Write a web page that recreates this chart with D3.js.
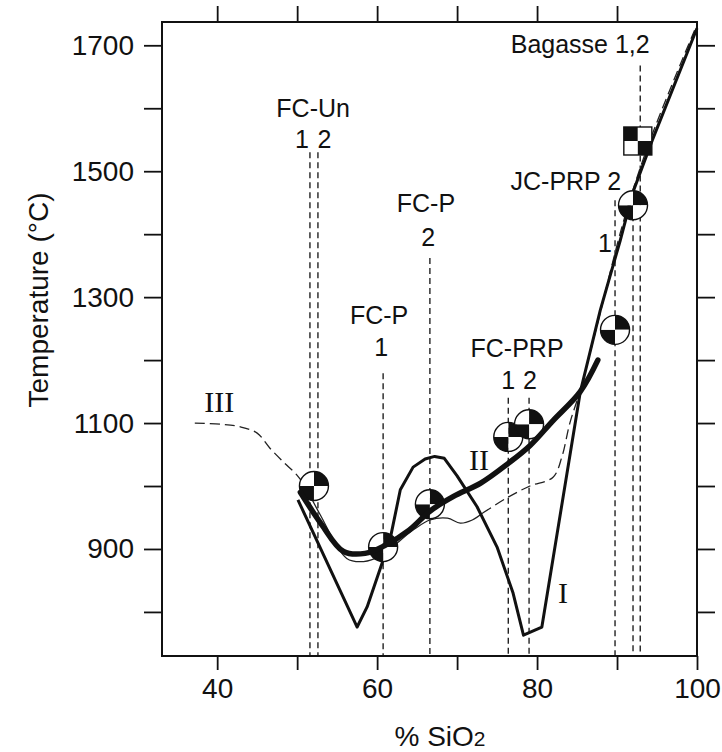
<!DOCTYPE html>
<html>
<head>
<meta charset="utf-8">
<script src="https://cdnjs.cloudflare.com/ajax/libs/d3/7.8.5/d3.min.js"></script>
<style>
  body { margin: 0; background: #fff; }
  svg text { font-family: "Liberation Sans", Arial, sans-serif; fill: #111; }
  .roman { font-family: "Liberation Serif", "DejaVu Serif", serif; }
</style>
</head>
<body>
<div id="chart"></div>
<script>
// ---- values ----
var xTicks = [40, 50, 60, 70, 80, 90, 100];
var xTopTicks = [40, 50, 60, 70, 80, 90];
var xLabels = [40, 60, 80, 100];
var yTicks = [800, 900, 1000, 1100, 1200, 1300, 1400, 1500, 1600, 1700];
var yLabels = [900, 1100, 1300, 1500, 1700];

// [ %SiO2, temperature ]
var curveI = [[50.1, 978], [57.5, 776], [58.75, 808], [61.6, 914], [62.9, 994], [64.5, 1030],
  [66.0, 1043], [67.2, 1047], [68.4, 1044], [70.0, 1016], [72.5, 967], [75.0, 903],
  [77.0, 830], [78.3, 763], [80.6, 776], [85.4, 1149], [87.9, 1279], [90.4, 1390],
  [92.0, 1467], [94.4, 1549], [100, 1727]];

var curveII = [[50.4, 990], [53.0, 940], [55.8, 896], [58.5, 893], [60.9, 905], [64.0, 930],
  [66.6, 960], [69.5, 983], [73.0, 1005], [76.4, 1036], [79.1, 1064], [82.0, 1104],
  [85.4, 1150], [87.6, 1200]];

var curveIIIdash1 = [[37.2, 1100], [40.5, 1098], [42.9, 1094], [45.0, 1084], [46.6, 1060],
  [48.3, 1038], [50.0, 1017], [51.0, 1000]];
var curveIIIsolid = [[51.0, 1000], [52.9, 954], [56.2, 885], [58.3, 880], [60.4, 889],
  [64.5, 930], [66.6, 946], [68.8, 949], [70.4, 941], [71.9, 946], [73.2, 957]];
var curveIIIdash2 = [[73.2, 957], [76.2, 981], [79.1, 1000], [82.0, 1014], [83.1, 1046],
  [84.1, 1100], [85.4, 1152], [87.7, 1265], [90.8, 1420], [94.0, 1545], [99.7, 1724]];

var sampleNames = ["FC-Un", "FC-P 1", "FC-P 2", "FC-PRP 1", "FC-PRP 2", "JC-PRP 1", "JC-PRP 2"];
var sampleSiO2 = [52.1, 60.75, 66.6, 76.4, 79.0, 89.75, 92.0];
var sampleTemp = [1000, 903, 971, 1078, 1098, 1248, 1446];

var bagasseSiO2 = [92.6];
var bagasseTemp = [1548];

// vertical dashed drop lines (x, upper end in temperature)
var dropSiO2 = [51.6, 52.6, 60.75, 66.6, 76.4, 79.0, 89.75, 92.0, 92.9];
var dropTop = [1530, 1530, 1179, 1362, 1140, 1140, 1454, 1462, 1668];

// annotation text, %SiO2 of the text centre, temperature of the baseline
var noteText = ["FC-Un", "1", "2", "FC-P", "1", "FC-P", "2", "FC-PRP", "1", "2",
  "JC-PRP 2", "1", "Bagasse 1,2"];
var noteSiO2 = [52.0, 50.6, 53.4, 60.25, 60.5, 66.1, 66.4, 77.5, 76.4, 79.1, 83.6, 88.5, 85.4];
var noteTemp = [1586, 1537, 1537, 1257, 1206, 1435, 1381, 1205, 1154, 1154, 1470, 1371, 1687];

var romanText = ["III", "II", "I"];
var romanSiO2 = [40.25, 72.75, 83.25];
var romanTemp = [1117, 1025, 814];

// ---- layout ----
var W = 722, H = 752;
var padL = 162, padR = 697, padT = 22, padB = 656;

var svg = d3.select("#chart").append("svg")
  .attr("width", W)
  .attr("height", H);

var x = d3.scaleLinear().domain([33.1, 100]).range([padL, padR]);
var y = d3.scaleLinear().domain([730, 1737]).range([padB, padT]);

// axes
var gB = svg.append("g").attr("transform", "translate(0," + padB + ")")
  .call(d3.axisBottom(x).tickValues(xTicks).tickSize(14).tickPadding(8)
    .tickFormat(function(d) { return xLabels.indexOf(d) >= 0 ? d : ""; }));
var gT = svg.append("g").attr("transform", "translate(0," + padT + ")")
  .call(d3.axisTop(x).tickValues(xTopTicks).tickSize(16).tickFormat(""));
var gL = svg.append("g").attr("transform", "translate(" + padL + ",0)")
  .call(d3.axisLeft(y).tickValues(yTicks).tickSize(18).tickPadding(10)
    .tickFormat(function(d) { return yLabels.indexOf(d) >= 0 ? d : ""; }));
var gR = svg.append("g").attr("transform", "translate(" + padR + ",0)")
  .call(d3.axisRight(y).tickValues(yTicks).tickSize(18).tickFormat(""));

[gB, gT, gL, gR].forEach(function(g) {
  g.select(".domain").remove();
  g.selectAll(".tick line").attr("stroke", "#111").attr("stroke-width", 1.8);
  g.selectAll("text").attr("font-size", 28).attr("fill", "#111")
    .attr("font-family", "Liberation Sans, Arial, sans-serif");
});

// frame
svg.append("rect")
  .attr("x", padL).attr("y", padT)
  .attr("width", padR - padL).attr("height", padB - padT)
  .attr("fill", "none").attr("stroke", "#111").attr("stroke-width", 2);

// axis titles
svg.append("text")
  .attr("transform", "translate(48," + 300 + ") rotate(-90)")
  .attr("text-anchor", "middle")
  .attr("font-size", 28)
  .text("Temperature (\u00B0C)");

var xt = svg.append("text")
  .attr("x", 440).attr("y", 746)
  .attr("text-anchor", "middle")
  .attr("font-size", 28);
xt.append("tspan").text("% SiO");
xt.append("tspan").attr("font-size", 21).text("2");

// drop lines
svg.selectAll("line.drop")
  .data(dropSiO2)
  .enter()
  .append("line")
  .attr("class", "drop")
  .attr("x1", function(d) { return x(d); })
  .attr("x2", function(d) { return x(d); })
  .attr("y1", function(d, i) { return y(dropTop[i]); })
  .attr("y2", padB)
  .attr("stroke", "#111")
  .attr("stroke-width", 1.3)
  .attr("stroke-dasharray", "6,4");

// curves
var line = d3.line()
  .x(function(d) { return x(d[0]); })
  .y(function(d) { return y(d[1]); });
var smooth = d3.line()
  .x(function(d) { return x(d[0]); })
  .y(function(d) { return y(d[1]); })
  .curve(d3.curveCatmullRom.alpha(0.5));

svg.append("path").attr("d", smooth(curveIIIdash1))
  .attr("fill", "none").attr("stroke", "#222").attr("stroke-width", 1.3)
  .attr("stroke-dasharray", "10,5");
svg.append("path").attr("d", smooth(curveIIIsolid))
  .attr("fill", "none").attr("stroke", "#222").attr("stroke-width", 1.3);
svg.append("path").attr("d", smooth(curveIIIdash2))
  .attr("fill", "none").attr("stroke", "#222").attr("stroke-width", 1.3)
  .attr("stroke-dasharray", "10,5");

svg.append("path").attr("d", line(curveI))
  .attr("fill", "none").attr("stroke", "#111").attr("stroke-width", 3)
  .attr("stroke-linejoin", "round");

// markers: quartered circles (white / black / black / white)
var r = 14.5;
var arc = d3.arc().innerRadius(0).outerRadius(r);
var quarters = [0, 1, 2, 3];
var marks = svg.selectAll("g.mark")
  .data(sampleNames)
  .enter()
  .append("g")
  .attr("class", "mark")
  .attr("transform", function(d, i) {
    return "translate(" + x(sampleSiO2[i]) + "," + y(sampleTemp[i]) + ")";
  });
marks.selectAll("path")
  .data(quarters)
  .enter()
  .append("path")
  .attr("d", function(q) {
    return arc({ startAngle: q * Math.PI / 2, endAngle: (q + 1) * Math.PI / 2 });
  })
  .attr("fill", function(q) { return (q === 0 || q === 2) ? "#111" : "#fff"; });
marks.append("circle")
  .attr("r", r)
  .attr("fill", "none")
  .attr("stroke", "#111")
  .attr("stroke-width", 1.4);

// thick curve II drawn over the markers
svg.append("path").attr("d", smooth(curveII))
  .attr("fill", "none").attr("stroke", "#111").attr("stroke-width", 5.5)
  .attr("stroke-linecap", "round");

// bagasse checker square
var s = 14;
var sq = svg.selectAll("g.bag")
  .data(bagasseSiO2)
  .enter()
  .append("g")
  .attr("class", "bag")
  .attr("transform", function(d, i) {
    return "translate(" + x(d) + "," + y(bagasseTemp[i]) + ")";
  });
sq.selectAll("rect")
  .data(quarters)
  .enter()
  .append("rect")
  .attr("x", function(q) { return (q % 2) ? 0 : -s; })
  .attr("y", function(q) { return q < 2 ? -s : 0; })
  .attr("width", s).attr("height", s)
  .attr("fill", function(q) { return (q === 0 || q === 3) ? "#111" : "#fff"; });
sq.append("rect")
  .attr("x", -s).attr("y", -s)
  .attr("width", 2 * s).attr("height", 2 * s)
  .attr("fill", "none").attr("stroke", "#111").attr("stroke-width", 1.4);

// annotations
svg.selectAll("text.note")
  .data(noteText)
  .enter()
  .append("text")
  .attr("class", "note")
  .attr("x", function(d, i) { return x(noteSiO2[i]); })
  .attr("y", function(d, i) { return y(noteTemp[i]); })
  .attr("text-anchor", "middle")
  .attr("font-size", 25)
  .text(function(d) { return d; });

svg.selectAll("text.roman")
  .data(romanText)
  .enter()
  .append("text")
  .attr("class", "roman")
  .attr("x", function(d, i) { return x(romanSiO2[i]); })
  .attr("y", function(d, i) { return y(romanTemp[i]); })
  .attr("text-anchor", "middle")
  .attr("font-size", 30)
  .text(function(d) { return d; });
</script>
</body>
</html>
